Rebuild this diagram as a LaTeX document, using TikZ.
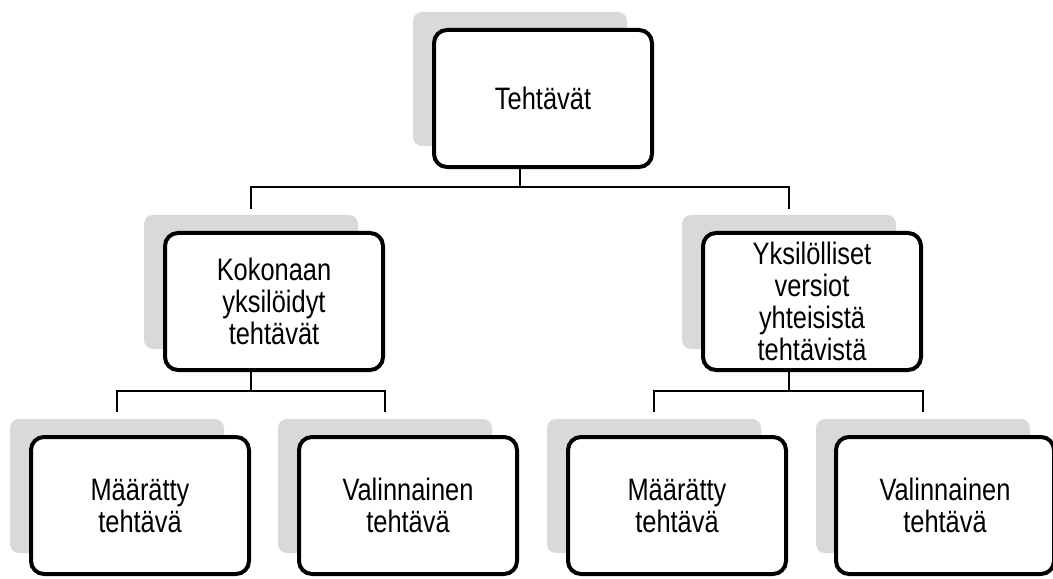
\documentclass[tikz,border=0pt]{standalone}
\usepackage{fontspec}
\setmainfont{Liberation Sans}[FakeStretch=0.82]
\begin{document}
\begin{tikzpicture}[x=1bp,y=-1bp,
  shade/.style={fill=shadegray, draw=none, rounded corners=9bp,
    minimum width=214bp, minimum height=134bp, inner sep=0pt, outer sep=0pt,
    anchor=north west},
  card/.style={draw=black, fill=white, line width=4bp, rounded corners=13bp,
    minimum width=218bp, minimum height=137bp, inner sep=2bp, outer sep=0pt,
    align=center, anchor=north west,
    font=\fontsize{31bp}{32bp}\selectfont},
  conn/.style={draw=black, line width=1.5bp}]
\definecolor{shadegray}{RGB}{217,217,217}
\useasboundingbox (0,0) rectangle (1053,579);

% grey backing plates
\node[shade] (g0) at (413,12) {};
\node[shade] (g1) at (144,215) {};
\node[shade] (g2) at (682,215) {};
\node[shade] (g3) at (10,419) {};
\node[shade] (g4) at (278,419) {};
\node[shade] (g5) at (547,419) {};
\node[shade] (g6) at (816,419) {};

% white cards, offset from their plates
\node[card] (b0) at (434,30) {Tehtävät};
\node[card] (b1) at (165,233) {Kokonaan\\yksilöidyt\\tehtävät};
\node[card] (b2) at (703,233) {Yksilölliset\\versiot\\yhteisistä\\tehtävistä};
\node[card] (b3) at (31,437) {Määrätty\\tehtävä};
\node[card] (b4) at (299,437) {Valinnainen\\tehtävä};
\node[card] (b5) at (568,437) {Määrätty\\tehtävä};
\node[card] (b6) at (836,437) {Valinnainen\\tehtävä};

% elbow connectors
\draw[conn] (g0.center |- b0.south) -- ++(0,20) coordinate (j0);
\draw[conn] (j0) -| ([yshift=6bp]g1.north);
\draw[conn] (j0) -| ([yshift=6bp]g2.north);

\draw[conn] (g1.center |- b1.south) -- ++(0,21) coordinate (j1);
\draw[conn] (j1) -| ([yshift=7bp]g3.north);
\draw[conn] (j1) -| ([yshift=7bp]g4.north);

\draw[conn] (g2.center |- b2.south) -- ++(0,21) coordinate (j2);
\draw[conn] (j2) -| ([yshift=7bp]g5.north);
\draw[conn] (j2) -| ([yshift=7bp]g6.north);
\end{tikzpicture}
\end{document}
